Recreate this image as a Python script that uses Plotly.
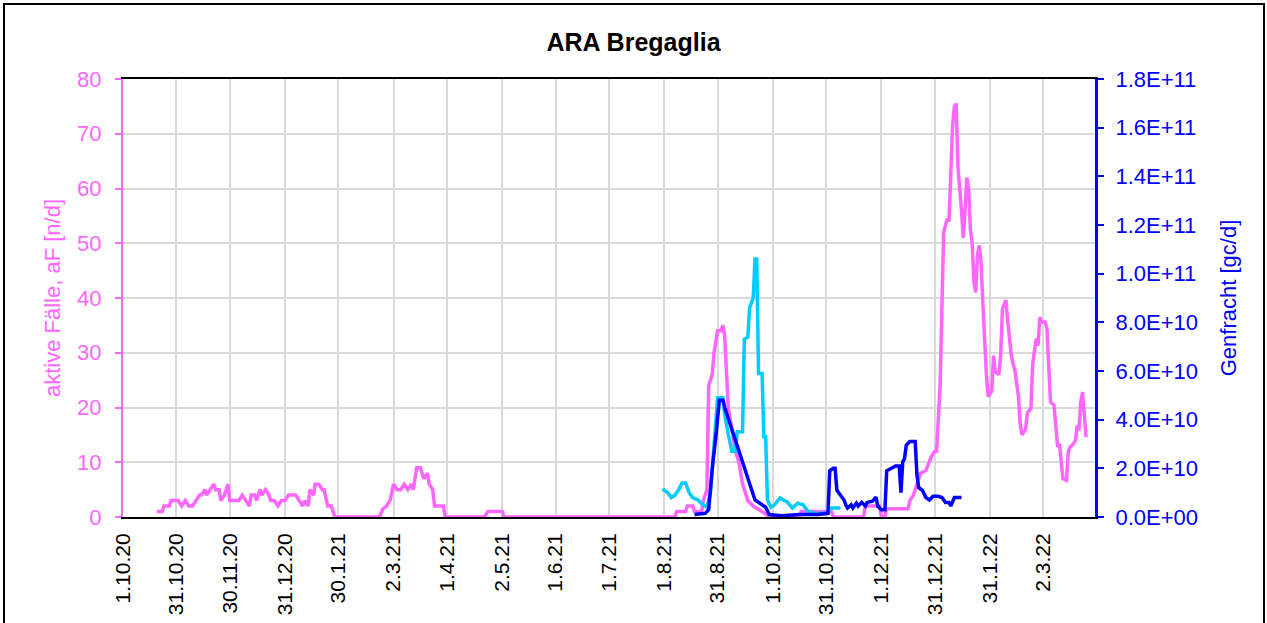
import pandas as pd
import plotly.graph_objects as go

BASE_DATE = "2020-10-01"

# x-axis ticks (labels as printed)
tick_dates = ["2020-10-01", "2020-10-31", "2020-11-30", "2020-12-31", "2021-01-30",
              "2021-03-02", "2021-04-01", "2021-05-02", "2021-06-01", "2021-07-01",
              "2021-08-01", "2021-08-31", "2021-10-01", "2021-10-31", "2021-12-01",
              "2021-12-31", "2022-01-31", "2022-03-02"]
tick_labels = ["1.10.20", "31.10.20", "30.11.20", "31.12.20", "30.1.21", "2.3.21",
               "1.4.21", "2.5.21", "1.6.21", "1.7.21", "1.8.21", "31.8.21",
               "1.10.21", "31.10.21", "1.12.21", "31.12.21", "31.1.22", "2.3.22"]

# aktive Fälle (days since 1.10.20, value n/d)
faelle_days = [19, 22, 23, 26, 27, 31, 33, 35, 37, 39,
               41, 43, 44, 46, 47, 49, 51, 52, 54, 55,
               57, 59, 60, 61, 63, 65, 67, 69, 71, 72,
               74, 75, 77, 78, 80, 82, 83, 85, 87, 89,
               91, 93, 97, 99, 101, 102, 104, 105, 107, 108,
               110, 112, 113, 115, 117, 119,
               144, 146, 148, 150, 152, 154, 156, 158, 160, 162,
               163, 165, 167, 169, 171, 172, 174, 175, 180, 181,
               203, 205, 213, 214,
               310, 311, 316, 317, 320, 321, 325, 326, 328, 329,
               331, 332, 334, 336, 337, 338, 339, 340, 342, 344,
               346, 348, 351, 354, 359, 363,
               380, 381, 398, 399, 416, 417, 425, 426, 428, 429,
               441, 442, 444, 446, 448, 451, 454, 456, 457, 458,
               459, 460, 461, 463, 464, 466, 467, 468, 469, 471,
               472, 473, 474, 475, 476, 477, 478, 479, 480, 481,
               482, 483, 484, 485, 486, 488, 489, 490, 492, 493,
               494, 496, 497, 499, 500, 501, 503, 504, 505, 507,
               508, 510, 511, 512, 513, 514, 515, 516, 518, 519,
               520, 521, 523, 524, 525, 526, 527, 528, 530, 531,
               532, 533, 535, 536, 537, 538, 539, 540, 541]
faelle_vals = [1, 1, 2, 2, 3, 3, 2, 3, 2, 2,
               3, 4, 4, 5, 4, 5, 6, 5, 5, 3,
               4, 6, 3, 3, 3, 3, 4, 3, 2, 4,
               4, 3, 5, 4, 5, 4, 3, 3, 2, 3,
               3, 4, 4, 3, 2, 3, 2, 5, 4, 6,
               6, 5, 5, 2, 2, 0,
               0, 1.5, 2, 3, 6, 5, 5, 6, 5, 6,
               5, 9, 9, 7, 8, 6, 5, 2, 2, 0,
               0, 1, 1, 0,
               0, 1, 1, 2, 2, 1, 1, 3, 5, 24,
               26, 30, 34, 34, 35, 33, 27, 20, 16, 12,
               10, 6, 3, 2, 1, 0,
               0, 1, 1, 0, 0, 2, 2, 0, 0, 1.5,
               1.5, 3, 4, 6, 8, 8.5, 11, 12, 12, 18,
               24, 38, 52, 54.5, 54, 71.5, 75, 75.5, 64, 56,
               51, 56, 62, 60, 52.6, 50, 43, 41, 48, 49.6,
               46.6, 39, 32, 26, 22, 23, 29.5, 26.5, 26, 29.5,
               38, 39.6, 35.6, 29.5, 28, 26.8, 22, 17, 15, 16,
               19, 19.8, 28, 30.7, 32.6, 31.3, 36.5, 35.6, 35.6, 34.4,
               29, 21, 20.4, 15.5, 12.8, 13.4, 9.4, 7, 6.7, 11.9,
               12.8, 13, 14, 16.7, 15.8, 21, 22.8, 18.6, 14.6]

# Genfracht series 1 (cyan)
gen1_days = [303, 306, 308, 310, 312, 314, 316, 318, 320, 323,
             325, 328, 330, 332, 334, 337, 338, 340, 342, 344,
             345, 348, 349, 351, 352, 353, 354, 355, 356, 357,
             359, 360, 361, 362, 364, 366, 369, 371, 373, 376,
             379, 382, 385, 389, 396, 397, 403]
gen1_vals = [1.15e10, 1.0e10, 0.8e10, 0.9e10, 1.1e10, 1.4e10, 1.4e10, 1.0e10, 0.8e10, 0.7e10,
             0.55e10, 0.4e10, 1.0e10, 3.0e10, 4.9e10, 4.9e10, 4.2e10, 3.4e10, 2.7e10, 2.7e10,
             3.5e10, 3.5e10, 7.3e10, 7.4e10, 8.6e10, 8.8e10, 9.0e10, 10.6e10, 10.6e10, 5.9e10,
             5.9e10, 3.3e10, 3.3e10, 0.7e10, 0.4e10, 0.5e10, 0.78e10, 0.7e10, 0.62e10, 0.37e10,
             0.57e10, 0.5e10, 0.22e10, 0.15e10, 0.15e10, 0.37e10, 0.37e10]

# Genfracht series 2 (blue)
gen2_days = [321, 327, 329, 330, 331, 333, 334, 335, 337, 338,
             355, 357, 359, 361, 363, 370, 380, 390, 396, 397,
             399, 400, 401, 403, 405, 406, 407, 409, 410, 412,
             413, 415, 417, 418, 421, 423, 424, 426, 428, 429,
             432, 434, 436, 437, 438, 439, 440, 442, 445, 446,
             447, 449, 451, 453, 455, 458, 460, 462, 464, 465,
             467, 471]
gen2_vals = [0.1e10, 0.15e10, 0.3e10, 1.3e10, 2.0e10, 3.3e10, 4.1e10, 4.8e10, 4.8e10, 4.5e10,
             0.7e10, 0.6e10, 0.5e10, 0.4e10, 0.1e10, 0.05e10, 0.1e10, 0.1e10, 0.15e10, 1.9e10,
             2.0e10, 2.0e10, 1.1e10, 0.9e10, 0.7e10, 0.5e10, 0.37e10, 0.5e10, 0.37e10, 0.57e10,
             0.45e10, 0.6e10, 0.45e10, 0.6e10, 0.65e10, 0.82e10, 0.45e10, 0.3e10, 0.3e10, 1.9e10,
             2.0e10, 2.1e10, 2.1e10, 1.0e10, 2.26e10, 2.4e10, 2.96e10, 3.1e10, 3.1e10, 1.7e10,
             1.2e10, 1.1e10, 0.8e10, 0.7e10, 0.85e10, 0.85e10, 0.8e10, 0.6e10, 0.6e10, 0.45e10,
             0.8e10, 0.8e10]

left_ticks = [0, 10, 20, 30, 40, 50, 60, 70, 80]
right_ticks = [0, 2e10, 4e10, 6e10, 8e10, 1e11, 1.2e11, 1.4e11, 1.6e11, 1.8e11]
right_tick_labels = ["0.0E+00", "2.0E+10", "4.0E+10", "6.0E+10", "8.0E+10",
                     "1.0E+11", "1.2E+11", "1.4E+11", "1.6E+11", "1.8E+11"]

MAGENTA = "#FF66FF"
CYAN = "#00CCFF"
BLUE = "#0000FF"
FONT = "Liberation Sans, Arial, sans-serif"


def to_dates(days):
    return pd.to_datetime(BASE_DATE) + pd.to_timedelta(days, unit="D")


fig = go.Figure()
fig.add_trace(go.Scatter(x=to_dates(faelle_days), y=faelle_vals, mode="lines",
                         line=dict(color=MAGENTA, width=3.5), name="aktive Fälle",
                         yaxis="y"))
fig.add_trace(go.Scatter(x=to_dates(gen1_days), y=gen1_vals, mode="lines",
                         line=dict(color=CYAN, width=3.5), name="Genfracht 1",
                         yaxis="y2"))
fig.add_trace(go.Scatter(x=to_dates(gen2_days), y=gen2_vals, mode="lines",
                         line=dict(color=BLUE, width=3.5), name="Genfracht 2",
                         yaxis="y2"))

W, H = 1267, 623
L, R, T, B = 123, 1095, 79, 517
pw, ph = R - L, B - T

fig.update_layout(
    width=W, height=H,
    margin=dict(l=L, r=W - R, t=T, b=H - B, autoexpand=False),
    paper_bgcolor="white", plot_bgcolor="white",
    showlegend=False,
    font=dict(family=FONT, size=22, color="black"),
    title=dict(text="<b>ARA Bregaglia</b>", x=0.5, xref="container", xanchor="center",
               y=1 - 42 / H, yref="container", yanchor="middle",
               font=dict(family=FONT, size=25, color="black")),
    xaxis=dict(type="date", range=["2020-10-01", "2022-03-31"],
               tickvals=tick_dates, ticktext=tick_labels, tickangle=-90,
               tickfont=dict(family=FONT, size=21, color="black"),
               showgrid=True, gridcolor="#D9D9D9", gridwidth=2,
               showline=True, linecolor="black", linewidth=2, mirror=True,
               ticks="", ticklabelstandoff=6, zeroline=False),
    yaxis=dict(range=[0, 80], tickvals=left_ticks,
               tickfont=dict(family=FONT, size=22, color=MAGENTA),
               showgrid=True, gridcolor="#D9D9D9", gridwidth=2,
               showline=True, linecolor=MAGENTA, linewidth=2,
               ticks="outside", ticklen=6, tickwidth=2, tickcolor=MAGENTA,
               ticklabelstandoff=9, zeroline=False,
               title=dict(text="aktive Fälle, aF [n/d]", standoff=10,
                          font=dict(family=FONT, size=22, color=MAGENTA))),
    yaxis2=dict(range=[0, 1.8e11], tickvals=right_ticks, ticktext=right_tick_labels,
                overlaying="y", side="right",
                tickfont=dict(family=FONT, size=22, color=BLUE),
                showgrid=False, showline=True, linecolor=BLUE, linewidth=3,
                ticks="outside", ticklen=6, tickwidth=2, tickcolor=BLUE,
                ticklabelstandoff=7, zeroline=False,
                title=dict(text="Genfracht [gc/d]", standoff=24,
                           font=dict(family=FONT, size=22, color=BLUE))),
)

# outer chart frame
fig.add_shape(type="rect", xref="paper", yref="paper",
              x0=(4 - L) / pw, x1=(1264 - L) / pw,
              y0=(B - 700) / ph, y1=(B - 4) / ph,
              line=dict(color="black", width=2), fillcolor="rgba(0,0,0,0)", layer="below")

fig.write_html("out.html", config={"displayModeBar": False},
               post_script="document.body.style.margin='0';document.body.style.overflow='hidden';")
